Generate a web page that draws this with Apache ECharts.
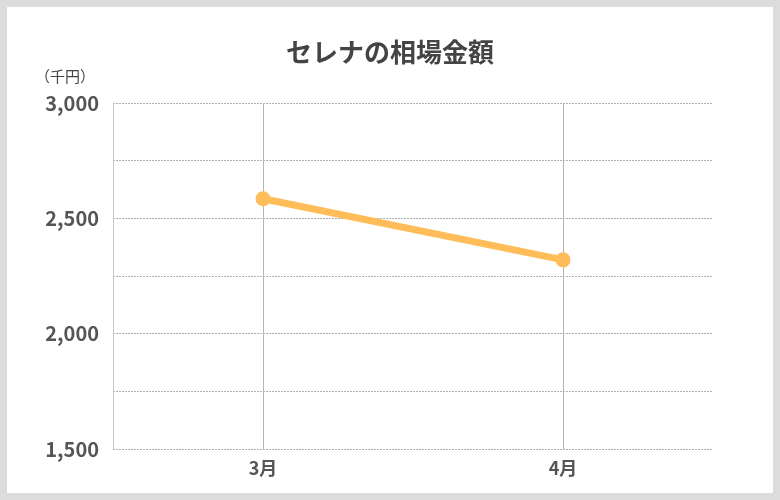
<!DOCTYPE html>
<html>
<head>
<meta charset="utf-8">
<script src="https://cdn.jsdelivr.net/npm/echarts@6/dist/echarts.min.js"></script>
<style>
  html, body { margin: 0; padding: 0; background: #dcdcdc; }
  #chart { position: absolute; left: 7px; top: 7px; width: 766px; height: 486px; background: #fff; }
</style>
</head>
<body>
<div id="chart"></div>
<script>
// 相場データ
const months = ["3月", "4月"];
const prices = [2585, 2320];
const yTicks = [1500, 2000, 2500, 3000];

const FONT = '"Noto Sans CJK JP", "Noto Sans", sans-serif';

const chart = echarts.init(document.getElementById("chart"));

chart.setOption({
  animation: false,
  textStyle: { fontFamily: FONT },
  title: {
    text: "セレナの相場金額",
    left: "center",
    top: 27,
    textStyle: { fontSize: 26, fontWeight: "bold", color: "#444", fontFamily: FONT },
  },
  grid: { left: 106, right: 60, top: 96, bottom: 44 },
  xAxis: {
    type: "category",
    data: months,
    boundaryGap: true,
    axisLine: { show: false },
    axisTick: { show: false },
    axisLabel: { fontSize: 18, fontWeight: "bold", color: "#555", margin: 10 },
    splitLine: { show: true, alignWithLabel: true, lineStyle: { color: "#b5b5b5", width: 1 } },
  },
  yAxis: {
    type: "value",
    min: yTicks[0],
    max: yTicks[yTicks.length - 1],
    interval: 500,
    name: "（千円）",
    nameLocation: "end",
    nameGap: 19,
    nameTextStyle: { fontSize: 15, color: "#444", align: "right", padding: [0, 18, 0, 0] },
    axisLine: { show: true, lineStyle: { color: "#c8c8c8" } },
    axisTick: { show: false },
    axisLabel: {
      fontSize: 20,
      fontWeight: "bold",
      color: "#555",
      margin: 14,
      formatter: (v) => v.toLocaleString("en-US"),
    },
    splitLine: { show: true, lineStyle: { color: "#b0b0b0", type: [2, 1], width: 1 } },
    minorTick: { show: false, splitNumber: 2 },
    minorSplitLine: { show: true, lineStyle: { color: "#b0b0b0", type: [2, 1], width: 1 } },
  },
  series: [
    {
      type: "line",
      data: prices,
      symbol: "circle",
      symbolSize: 15,
      lineStyle: { color: "#ffbd59", width: 7 },
      itemStyle: { color: "#ffbd59" },
      z: 5,
    },
  ],
});
</script>
</body>
</html>
